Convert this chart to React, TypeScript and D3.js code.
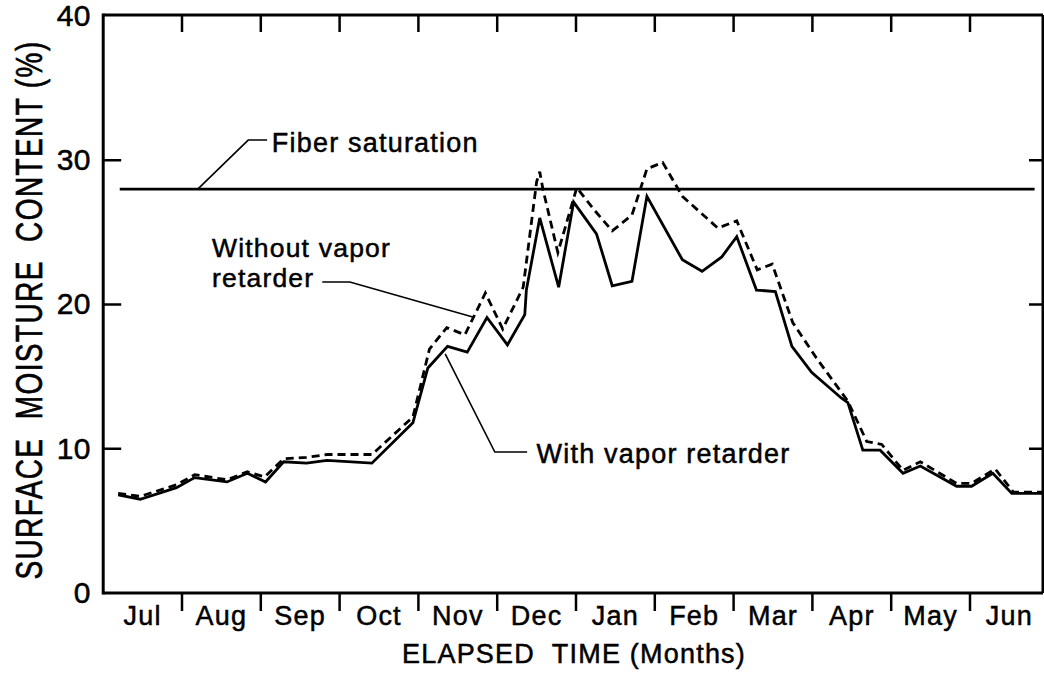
import React from "react";
import * as d3 from "d3";

// Elapsed time in months from start of July
const monthLabels = ["Jul", "Aug", "Sep", "Oct", "Nov", "Dec", "Jan", "Feb", "Mar", "Apr", "May", "Jun"];
const monthBoundaries = [1, 2, 3, 4, 5, 6, 7, 8, 9, 10, 11];
const yTicks = [0, 10, 20, 30, 40];
const sideTicks = [10, 20, 30];

// With vapor retarder (solid)
const withTime = [0.19, 0.47, 0.93, 1.16, 1.57, 1.83, 2.06, 2.29, 2.58, 2.84, 3.41, 3.93, 4.12, 4.37, 4.62, 4.87, 5.13, 5.35, 5.37, 5.54, 5.78, 5.97, 6.26, 6.46, 6.71, 6.9, 7.35, 7.6, 7.85, 8.04, 8.29, 8.53, 8.74, 8.99, 9.37, 9.45, 9.64, 9.86, 10.15, 10.37, 10.83, 11.02, 11.29, 11.53, 11.92];
const withValue = [6.8, 6.5, 7.3, 8.0, 7.7, 8.3, 7.7, 9.1, 9.0, 9.2, 9.0, 11.8, 15.6, 17.1, 16.7, 19.1, 17.2, 19.3, 21.0, 26.0, 21.2, 27.1, 24.9, 21.3, 21.6, 27.5, 23.1, 22.3, 23.3, 24.7, 21.0, 20.9, 17.1, 15.3, 13.5, 13.2, 9.9, 9.9, 8.3, 8.8, 7.4, 7.4, 8.3, 6.9, 6.9];

// Without vapor retarder (dashed)
const withoutTime = [0.19, 0.47, 0.93, 1.16, 1.57, 1.83, 2.05, 2.29, 2.58, 2.84, 3.41, 3.93, 4.14, 4.36, 4.59, 4.85, 5.07, 5.33, 5.5, 5.54, 5.58, 5.77, 6.01, 6.24, 6.46, 6.71, 6.9, 7.1, 7.35, 7.8, 8.04, 8.3, 8.49, 8.75, 9.05, 9.45, 9.69, 9.88, 10.15, 10.37, 10.83, 11.02, 11.32, 11.55, 11.92];
const withoutValue = [6.9, 6.7, 7.5, 8.2, 7.85, 8.4, 8.05, 9.3, 9.4, 9.6, 9.6, 12.2, 16.9, 18.4, 17.9, 20.8, 18.3, 21.2, 28.5, 29.2, 28.0, 23.6, 28.1, 26.5, 25.1, 26.2, 29.4, 29.85, 27.5, 25.3, 25.8, 22.4, 22.8, 18.75, 16.3, 13.3, 10.5, 10.3, 8.5, 9.1, 7.6, 7.6, 8.6, 7.0, 7.0];

const fiberSaturation = 28;
const fiberSpan = [0.21, 11.82];

const W = 1044;
const H = 675;
const X0 = 103.2;
const MONTH_PX = 78.8;
const RIGHT = 1043;
const FONT = "'Liberation Sans', Arial, Helvetica, sans-serif";

export default function App() {
  const x = d3.scaleLinear().domain([0, 12]).range([X0, X0 + 12 * MONTH_PX]);
  const y = d3.scaleLinear().domain([0, 40]).range([593, 16]);
  const top = 15;
  const bottom = y(0);

  const line = d3
    .line<[number, number]>()
    .x((d) => x(d[0]))
    .y((d) => y(d[1]));

  const withPts = withTime.map((t, i) => [t, withValue[i]] as [number, number]);
  const withoutPts = withoutTime.map((t, i) => [t, withoutValue[i]] as [number, number]);

  const leader = (pts: [number, number][]) => line(pts) || "";

  const txt = {
    fontFamily: FONT,
    fontSize: 27,
    letterSpacing: 1.2,
    fill: "#000",
    stroke: "#000",
    strokeWidth: 0.5,
  } as const;

  return (
    <svg
      width={W}
      height={H}
      style={{ position: "absolute", left: 0, top: 0, background: "#fff" }}
    >
      <rect x={0} y={0} width={W} height={H} fill="#fff" />
      {/* frame */}
      <g stroke="#000" strokeWidth={3} fill="none">
        <line x1={X0} x2={X0} y1={top - 1.5} y2={bottom + 1.5} />
        <line x1={X0} x2={RIGHT} y1={top} y2={top} />
        <line x1={X0} x2={RIGHT} y1={bottom} y2={bottom} />
        <line x1={RIGHT} x2={RIGHT} y1={top} y2={bottom} />
      </g>
      {/* month boundary ticks */}
      <g stroke="#000" strokeWidth={2.5}>
        {monthBoundaries.map((m) => (
          <g key={m}>
            <line x1={x(m)} x2={x(m)} y1={top} y2={top + 17} />
            <line x1={x(m)} x2={x(m)} y1={bottom} y2={bottom + 18} />
          </g>
        ))}
        {sideTicks.map((v) => (
          <g key={v}>
            <line x1={X0} x2={X0 + 18} y1={y(v)} y2={y(v)} />
            <line x1={RIGHT - 14} x2={RIGHT} y1={y(v)} y2={y(v)} />
          </g>
        ))}
      </g>
      {/* y tick labels */}
      {yTicks.map((v) => (
        <text
          key={v}
          x={91}
          y={y(v)}
          dy="0.33em"
          textAnchor="end"
          style={{ ...txt, fontSize: 30, letterSpacing: 0.5 }}
        >
          {v}
        </text>
      ))}
      {/* month labels */}
      {monthLabels.map((mLabel, i) => (
        <text key={mLabel} x={x(i + 0.5)} y={625} textAnchor="middle" style={txt}>
          {mLabel}
        </text>
      ))}
      {/* axis titles */}
      <text x={574} y={663} textAnchor="middle" style={txt} xmlSpace="preserve">
        {"ELAPSED  TIME (Months)"}
      </text>
      <text
        transform="translate(42,310) rotate(-90) scale(1,1.3)"
        textAnchor="middle"
        style={{ ...txt, fontSize: 28, letterSpacing: 1.4 }}
        xmlSpace="preserve"
      >
        {"SURFACE  MOISTURE  CONTENT (%)"}
      </text>

      {/* fiber saturation */}
      <line
        x1={x(fiberSpan[0])}
        x2={x(fiberSpan[1])}
        y1={y(fiberSaturation)}
        y2={y(fiberSaturation)}
        stroke="#000"
        strokeWidth={2.8}
      />

      {/* data lines */}
      <path d={line(withPts) || ""} fill="none" stroke="#000" strokeWidth={2.8} strokeLinejoin="miter" />
      <path
        d={line(withoutPts) || ""}
        fill="none"
        stroke="#000"
        strokeWidth={2.8}
        strokeDasharray="8,5"
      />

      {/* annotations */}
      <g fill="none" stroke="#000" strokeWidth={1.6}>
        <path d={leader([[1.2, 28], [1.84, 31.4], [2.08, 31.4]])} />
        <path d={leader([[2.78, 21.56], [3.13, 21.56], [4.69, 19.13]])} />
        <path d={leader([[5.38, 9.77], [4.97, 9.77], [4.34, 16.57]])} />
      </g>
      <text x={x(2.14)} y={y(30.57)} style={txt}>Fiber saturation</text>
      <text x={x(1.38)} y={y(23.3)} style={{ ...txt, fontSize: 26.5 }}>
        <tspan x={x(1.38)} y={y(23.3)}>Without vapor</tspan>
        <tspan x={x(1.38)} y={y(21.2)}>retarder</tspan>
      </text>
      <text x={x(5.5)} y={y(9.01)} style={txt}>With vapor retarder</text>
    </svg>
  );
}
